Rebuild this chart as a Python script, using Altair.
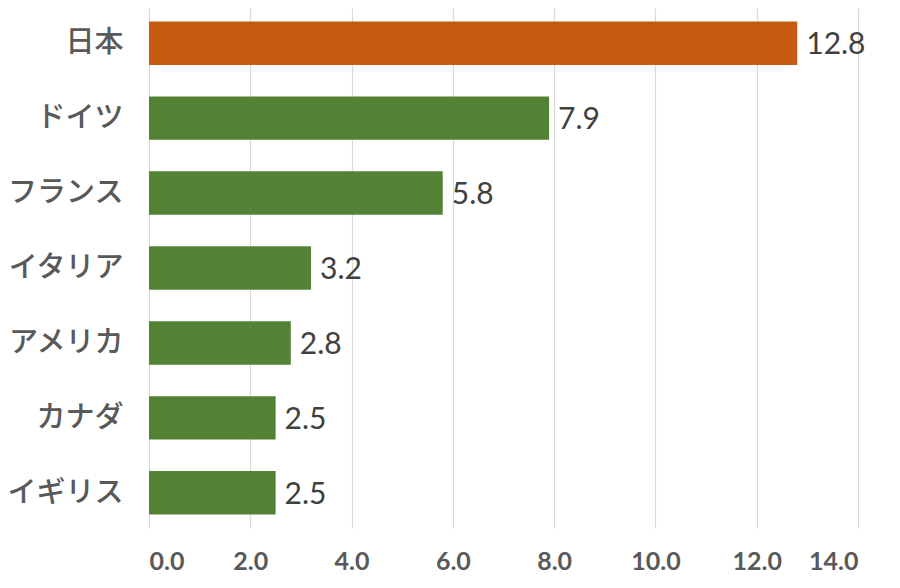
import altair as alt
import pandas as pd

countries = ["日本", "ドイツ", "フランス", "イタリア", "アメリカ", "カナダ", "イギリス"]
values = [12.8, 7.9, 5.8, 3.2, 2.8, 2.5, 2.5]
colors = ["#C55A11", "#548235", "#548235", "#548235", "#548235", "#548235", "#548235"]

df = pd.DataFrame({"country": countries, "value": values, "color": colors})

y = alt.Y("country:N", sort=countries, title=None,
          scale=alt.Scale(paddingInner=0.42, paddingOuter=0.18),
          axis=alt.Axis(labelFont="Noto Sans CJK JP", labelFontSize=29, labelColor="#595959",
                        labelFontWeight=500,
                        labelPadding=26, ticks=False, domain=False, grid=False))
x = alt.X("value:Q", title=None, scale=alt.Scale(domain=[0, 14]),
          axis=alt.Axis(values=[0, 2, 4, 6, 8, 10, 12, 14], format=".1f",
                        labelFont="Lato", labelFontWeight="bold", labelFontSize=25,
                        labelColor="#595959", labelPadding=21, ticks=False, domain=False,
                        grid=True, gridColor="#d9d9d9", gridWidth=1.2))

bars = alt.Chart(df).mark_bar().encode(
    y=y, x=x, color=alt.Color("color:N", scale=None))

labels = alt.Chart(df).mark_text(align="left", baseline="middle", dx=9, dy=2,
                                 font="Lato", fontSize=30, color="#404040").encode(
    y=alt.Y("country:N", sort=countries), x=alt.X("value:Q"),
    text=alt.Text("value:Q", format=".1f"))

chart = (bars + labels).properties(
    width=709, height=520,
    autosize=alt.AutoSizeParams(type="none"),
    padding={"left": 141, "top": 0, "right": 34, "bottom": 52},
).configure(background="white").configure_view(stroke=None)

chart.save("out.html", embed_options={"renderer": "svg", "actions": False})
